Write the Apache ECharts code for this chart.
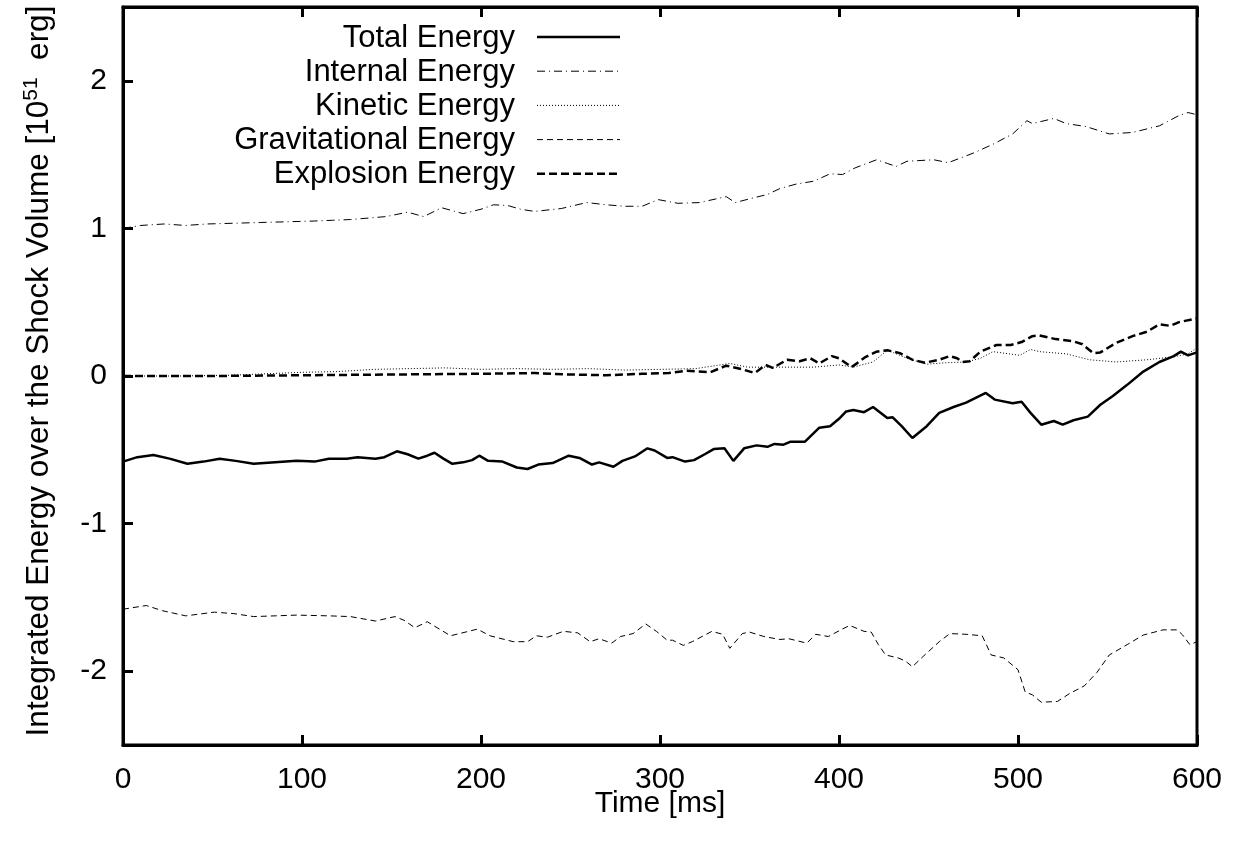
<!DOCTYPE html>
<html>
<head>
<meta charset="utf-8">
<script src="https://cdn.jsdelivr.net/npm/echarts@6/dist/echarts.min.js"></script>
<style>
  html, body { margin: 0; padding: 0; background: #fff; }
  #chart { width: 1241px; height: 849px; }
</style>
</head>
<body>
<div id="chart"></div>
<script>
// Energies integrated over the shock volume, in units of 1e51 erg, versus time in ms.

const totalT = [0, 8, 17, 26, 36, 45, 54, 63, 73, 85, 97, 107, 115, 125, 131, 141, 146, 153, 159, 165, 170, 174, 179, 184, 190, 195, 199, 204, 212, 220, 226, 232, 240, 249, 255, 262, 266, 274, 279, 286, 293, 297, 304, 307, 314, 319, 325, 330, 336, 341, 347, 354, 360, 364, 369, 373, 381, 389, 395, 400, 404, 408, 414, 419, 427, 430, 435, 441, 449, 456, 464, 471, 482, 487, 497, 502, 507, 513, 520, 525, 531, 539, 546, 553, 561, 570, 579, 587, 591, 595, 600];
const totalE = [-0.58, -0.55, -0.535, -0.56, -0.595, -0.58, -0.56, -0.575, -0.595, -0.585, -0.575, -0.58, -0.56, -0.56, -0.55, -0.56, -0.55, -0.51, -0.53, -0.56, -0.54, -0.52, -0.56, -0.595, -0.585, -0.57, -0.54, -0.575, -0.58, -0.62, -0.63, -0.60, -0.59, -0.54, -0.555, -0.60, -0.585, -0.615, -0.575, -0.545, -0.49, -0.505, -0.555, -0.55, -0.58, -0.57, -0.53, -0.495, -0.49, -0.575, -0.49, -0.47, -0.48, -0.46, -0.465, -0.445, -0.445, -0.35, -0.34, -0.29, -0.24, -0.23, -0.245, -0.21, -0.285, -0.28, -0.34, -0.42, -0.34, -0.25, -0.21, -0.18, -0.115, -0.16, -0.185, -0.175, -0.25, -0.33, -0.305, -0.33, -0.30, -0.275, -0.195, -0.135, -0.06, 0.03, 0.095, 0.135, 0.165, 0.14, 0.16];

const internalT = [0, 10, 23, 35, 47, 62, 77, 92, 107, 117, 127, 137, 147, 159, 168, 178, 190, 200, 207, 215, 222, 230, 245, 259, 270, 280, 290, 299, 310, 322, 337, 342, 350, 360, 367, 376, 386, 395, 402, 409, 421, 427, 432, 438, 453, 461, 475, 486, 497, 505, 508, 520, 527, 538, 551, 564, 579, 590, 595, 600];
const internalE = [1.0, 1.02, 1.03, 1.02, 1.03, 1.035, 1.04, 1.045, 1.05, 1.055, 1.06, 1.07, 1.08, 1.11, 1.08, 1.14, 1.10, 1.13, 1.16, 1.155, 1.13, 1.115, 1.135, 1.175, 1.16, 1.15, 1.15, 1.195, 1.17, 1.175, 1.215, 1.175, 1.20, 1.23, 1.27, 1.30, 1.32, 1.37, 1.365, 1.41, 1.465, 1.44, 1.42, 1.455, 1.465, 1.445, 1.51, 1.57, 1.64, 1.73, 1.71, 1.745, 1.71, 1.69, 1.64, 1.65, 1.695, 1.765, 1.785, 1.77];

const kineticT = [0, 30, 60, 80, 100, 120, 140, 160, 180, 200, 220, 240, 260, 280, 300, 320, 339, 349, 367, 386, 400, 408, 419, 427, 438, 449, 460, 471, 479, 486, 501, 507, 512, 527, 540, 555, 572, 587, 595, 600];
const kineticE = [0, 0, 0.005, 0.015, 0.025, 0.03, 0.045, 0.05, 0.055, 0.045, 0.05, 0.045, 0.05, 0.04, 0.045, 0.05, 0.085, 0.06, 0.06, 0.06, 0.075, 0.06, 0.095, 0.175, 0.12, 0.08, 0.09, 0.095, 0.12, 0.165, 0.14, 0.18, 0.165, 0.15, 0.11, 0.095, 0.11, 0.13, 0.15, 0.19];

const gravT = [0, 13, 22, 35, 51, 62, 73, 85, 97, 115, 127, 141, 152, 157, 163, 170, 183, 198, 205, 218, 226, 231, 237, 246, 254, 261, 266, 273, 278, 285, 292, 298, 304, 307, 313, 318, 329, 335, 339, 346, 350, 358, 367, 372, 382, 387, 394, 401, 406, 414, 418, 422, 426, 433, 437, 441, 447, 456, 462, 471, 480, 485, 492, 500, 504, 508, 513, 522, 529, 537, 544, 551, 561, 570, 581, 589, 592, 596, 600];
const gravE = [-1.58, -1.555, -1.59, -1.625, -1.6, -1.61, -1.63, -1.625, -1.62, -1.625, -1.63, -1.66, -1.63, -1.655, -1.705, -1.665, -1.76, -1.715, -1.76, -1.80, -1.80, -1.76, -1.77, -1.73, -1.74, -1.80, -1.78, -1.81, -1.765, -1.745, -1.68, -1.73, -1.79, -1.79, -1.825, -1.80, -1.73, -1.75, -1.845, -1.745, -1.735, -1.765, -1.785, -1.78, -1.81, -1.75, -1.765, -1.72, -1.69, -1.73, -1.735, -1.82, -1.89, -1.91, -1.93, -1.97, -1.90, -1.80, -1.745, -1.75, -1.76, -1.89, -1.91, -1.99, -2.14, -2.16, -2.21, -2.205, -2.15, -2.10, -2.01, -1.89, -1.82, -1.755, -1.72, -1.72, -1.755, -1.82, -1.80];

const explT = [0, 50, 100, 150, 200, 230, 250, 270, 290, 305, 315, 328, 337, 346, 353, 359, 363, 371, 378, 384, 389, 396, 400, 407, 415, 421, 427, 434, 441, 448, 456, 462, 466, 469, 473, 479, 488, 496, 502, 508, 512, 521, 531, 536, 542, 546, 555, 564, 572, 579, 585, 590, 600];
const explE = [0, 0, 0.005, 0.01, 0.015, 0.02, 0.01, 0.005, 0.015, 0.02, 0.035, 0.025, 0.07, 0.045, 0.02, 0.075, 0.055, 0.11, 0.10, 0.12, 0.085, 0.135, 0.12, 0.06, 0.13, 0.165, 0.175, 0.155, 0.11, 0.09, 0.11, 0.135, 0.12, 0.095, 0.10, 0.165, 0.21, 0.21, 0.23, 0.27, 0.275, 0.25, 0.235, 0.215, 0.155, 0.16, 0.225, 0.27, 0.30, 0.35, 0.34, 0.365, 0.39];

const xTicks = [0, 100, 200, 300, 400, 500, 600];
const yTicks = [-2, -1, 0, 1, 2];

const FONT = 'Liberation Sans, Arial, Helvetica, sans-serif';
const FS = 30;
const KEY_FS = 31;

// Line styles shared by the curves and the key samples.
const styles = [
  { name: 'Total Energy',         t: totalT,    v: totalE,    width: 2.5, dash: null },
  { name: 'Internal Energy',      t: internalT, v: internalE, width: 1,   dash: [8, 4, 1, 4] },
  { name: 'Kinetic Energy',       t: kineticT,  v: kineticE,  width: 1,   dash: [1, 2] },
  { name: 'Gravitational Energy', t: gravT,     v: gravE,     width: 1,   dash: [6, 4] },
  { name: 'Explosion Energy',     t: explT,     v: explE,     width: 2.5, dash: [8, 4] }
];

function pairs(ts, vs) { return ts.map((t, i) => [t, vs[i]]); }

const series = styles.map(s => ({
  name: s.name,
  type: 'line',
  data: pairs(s.t, s.v),
  symbol: 'none',
  smooth: false,
  silent: true,
  lineStyle: { color: '#000', width: s.width, type: s.dash || 'solid', cap: 'butt' },
  z: 3
}));

// Key in the upper left: right-aligned labels followed by line samples.
const keyTextRight = 515, keyLineX1 = 537, keyLineX2 = 620, keyTop = 37, keyStep = 34.2;
const keyGraphics = [];
styles.forEach((s, i) => {
  const y = keyTop + i * keyStep;
  keyGraphics.push({
    type: 'text', silent: true,
    style: { x: keyTextRight, y: y + 1, text: s.name, align: 'right', verticalAlign: 'middle',
             font: KEY_FS + 'px ' + FONT, fill: '#000' }
  });
  keyGraphics.push({
    type: 'line', silent: true,
    shape: { x1: keyLineX1, y1: y, x2: keyLineX2, y2: y },
    style: { stroke: '#000', lineWidth: s.width, lineDash: s.dash || null, lineCap: 'butt' }
  });
});

const chart = echarts.init(document.getElementById('chart'), null, { renderer: 'canvas' });

chart.setOption({
  animation: false,
  backgroundColor: '#fff',
  textStyle: { fontFamily: FONT },
  grid: {
    left: 123, right: 44, top: 7, bottom: 104,
    show: true, borderColor: '#000', borderWidth: 3, backgroundColor: 'transparent', z: 10
  },
  graphic: keyGraphics,
  xAxis: [
    {
      type: 'value', min: 0, max: 600, interval: 100, position: 'bottom',
      name: 'Time [ms]', nameLocation: 'middle', nameGap: 44, nameMoveOverlap: false,
      nameTextStyle: { fontFamily: FONT, fontSize: FS, color: '#000' },
      axisLine: { show: true, onZero: false, lineStyle: { color: '#000', width: 3 } },
      axisTick: { show: true, inside: true, length: 10, lineStyle: { color: '#000', width: 3 } },
      axisLabel: { show: true, margin: 20, fontFamily: FONT, fontSize: FS, color: '#000',
                   customValues: xTicks },
      splitLine: { show: false }
    },
    {
      type: 'value', min: 0, max: 600, interval: 100, position: 'top',
      axisLine: { show: true, onZero: false, lineStyle: { color: '#000', width: 3 } },
      axisTick: { show: true, inside: true, length: 10, lineStyle: { color: '#000', width: 3 } },
      axisLabel: { show: false },
      splitLine: { show: false }
    }
  ],
  yAxis: {
    type: 'value', min: -2.5, max: 2.5,
    name: '{a|Integrated Energy over the Shock Volume [10}{s|51}{a|  erg]}',
    nameLocation: 'middle', nameGap: 66, nameMoveOverlap: false,
    nameTextStyle: {
      color: '#000',
      padding: [0, 0, 0, 10],
      rich: {
        a: { fontFamily: FONT, fontSize: 31.5, color: '#000', lineHeight: 36 },
        s: { fontFamily: FONT, fontSize: 21, color: '#000', verticalAlign: 'top', lineHeight: 36 }
      }
    },
    axisLine: { show: true, onZero: false, lineStyle: { color: '#000', width: 3 } },
    axisTick: { show: true, inside: true, length: 10, lineStyle: { color: '#000', width: 3 },
                customValues: yTicks },
    axisLabel: { show: true, margin: 16, fontFamily: FONT, fontSize: FS, color: '#000',
                 customValues: yTicks },
    splitLine: { show: false }
  },
  series: series
});
</script>
</body>
</html>
